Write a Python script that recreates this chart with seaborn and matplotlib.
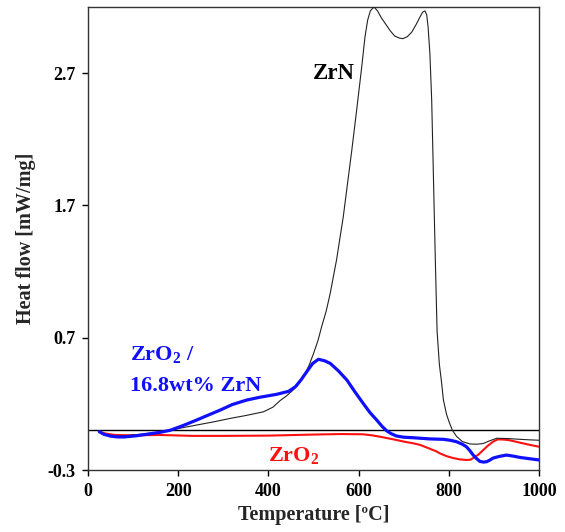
import matplotlib
matplotlib.use("Agg")
import matplotlib.pyplot as plt
import seaborn as sns
import pandas as pd

# ---- data ----
zrn_T = [25, 35, 50, 70, 100, 130, 160, 182, 210, 241, 280, 315, 350, 389, 410, 426,
         440, 455, 467, 478, 490, 500, 510, 518, 528, 537, 551, 566, 585, 596, 607,
         614, 620, 626, 634, 642, 650, 660, 670, 680, 690, 698, 708, 718, 728, 737,
         742, 747, 751, 754, 758, 762, 766, 770, 774, 779, 784, 788, 795, 801, 808,
         817, 830, 847, 862, 876, 890, 906, 930, 958, 980, 1000]
zrn_hf = [-0.01, -0.03, -0.042, -0.045, -0.035, -0.025, -0.012, 0.0, 0.02, 0.04, 0.065,
          0.09, 0.112, 0.14, 0.175, 0.225, 0.26, 0.305, 0.35, 0.405, 0.49, 0.58, 0.68,
          0.783, 0.9, 1.035, 1.287, 1.615, 2.12, 2.43, 2.75, 2.97, 3.1, 3.17, 3.2, 3.17,
          3.12, 3.07, 3.02, 2.98, 2.965, 2.96, 2.975, 3.01, 3.07, 3.13, 3.16, 3.17,
          3.14, 3.05, 2.85, 2.5, 1.9, 1.3, 0.75, 0.5, 0.36, 0.23, 0.12, 0.06, 0.0,
          -0.045, -0.085, -0.103, -0.105, -0.1, -0.08, -0.06, -0.062, -0.068, -0.072,
          -0.075]

mix_T = [25, 35, 49, 65, 80, 105, 130, 160, 182, 210, 241, 270, 293, 320, 352, 381,
         418, 445, 460, 472, 485, 498, 511, 525, 537, 555, 574, 592, 610, 625, 640,
         652, 662, 672, 684, 700, 721, 758, 788, 803, 817, 830, 839, 847, 854, 862,
         869, 877, 884, 891, 898, 912, 928, 943, 958, 980, 1000]
mix_hf = [-0.01, -0.03, -0.043, -0.05, -0.05, -0.042, -0.03, -0.015, 0.0, 0.035, 0.078,
          0.12, 0.153, 0.195, 0.229, 0.25, 0.272, 0.295, 0.33, 0.38, 0.443, 0.505,
          0.537, 0.525, 0.506, 0.45, 0.38, 0.29, 0.204, 0.135, 0.078, 0.03, -0.003,
          -0.025, -0.043, -0.052, -0.056, -0.065, -0.068, -0.075, -0.086, -0.105,
          -0.124, -0.155, -0.187, -0.215, -0.235, -0.24, -0.237, -0.225, -0.21, -0.197,
          -0.187, -0.195, -0.205, -0.215, -0.224]

zro2_T = [25, 40, 60, 100, 160, 230, 300, 400, 500, 560, 610, 630, 647, 665, 684, 700,
          721, 736, 755, 773, 780, 795, 810, 825, 839, 848, 854, 865, 876, 887, 898,
          909, 922, 935, 960, 980, 1000]
zro2_hf = [-0.01, -0.025, -0.035, -0.038, -0.035, -0.042, -0.042, -0.04, -0.032, -0.028,
           -0.03, -0.038, -0.048, -0.06, -0.073, -0.085, -0.098, -0.11, -0.135, -0.16,
           -0.174, -0.195, -0.21, -0.22, -0.224, -0.222, -0.21, -0.185, -0.15, -0.115,
           -0.086, -0.068, -0.07, -0.075, -0.095, -0.11, -0.124]

x_ticks = [0, 200, 400, 600, 800, 1000]
y_ticks = [-0.3, 0.7, 1.7, 2.7]

# ---- style ----
sns.set_theme(style="ticks")
plt.rcParams["font.family"] = ["Liberation Serif", "DejaVu Serif"]
plt.rcParams["font.weight"] = "bold"
plt.rcParams["mathtext.fontset"] = "custom"
plt.rcParams["mathtext.rm"] = "Liberation Serif:bold"
plt.rcParams["mathtext.it"] = "Liberation Serif:bold"
plt.rcParams["mathtext.bf"] = "Liberation Serif:bold"

fig = plt.figure(figsize=(5.65, 5.32), dpi=100)
ax = fig.add_axes([0.1558, 0.1165, 0.7982, 0.8705])

df_zrn = pd.DataFrame({"T": zrn_T, "hf": zrn_hf})
df_mix = pd.DataFrame({"T": mix_T, "hf": mix_hf})
df_zro2 = pd.DataFrame({"T": zro2_T, "hf": zro2_hf})

ax.axhline(0, color="black", lw=1.0, zorder=1)
sns.lineplot(data=df_zrn, x="T", y="hf", ax=ax, color="#222222", lw=0.8, sort=False, zorder=3)
sns.lineplot(data=df_zro2, x="T", y="hf", ax=ax, color="#ff1010", lw=1.5, sort=False, zorder=2)
sns.lineplot(data=df_mix, x="T", y="hf", ax=ax, color="#1010ff", lw=2.3, sort=False, zorder=4)

ax.set_xlim(0, 1000)
ax.set_ylim(-0.3, 3.2)
ax.set_xticks(x_ticks)
ax.set_yticks(y_ticks)
ax.set_xticklabels([str(t) for t in x_ticks], fontsize=13, fontweight="bold")
ax.set_yticklabels([f"{t:.1f}" for t in y_ticks], fontsize=13, fontweight="bold")
ax.tick_params(direction="out", length=4, width=1, colors="black", pad=5)
for s in ax.spines.values():
    s.set_color("#333333")
    s.set_linewidth(1.0)

ax.set_xlabel("Temperature [ºC]", fontsize=14.5, fontweight="bold", labelpad=4)
ax.set_ylabel("Heat flow [mW/mg]", fontsize=14.5, fontweight="bold", labelpad=8)

ax.text(498, 2.7, "ZrN", fontsize=16.5, fontweight="bold", color="black",
        ha="left", va="center")
ax.text(93, 0.57, "ZrO$_2$ /", fontsize=16, fontweight="bold", color="#1010ff",
        ha="left", va="center")
ax.text(93, 0.335, "16.8wt% ZrN", fontsize=16, fontweight="bold", color="#1010ff",
        ha="left", va="center")
ax.text(398, -0.19, "ZrO$_2$", fontsize=16, fontweight="bold", color="#ff1010",
        ha="left", va="center")

fig.savefig("out.png", dpi=100)
